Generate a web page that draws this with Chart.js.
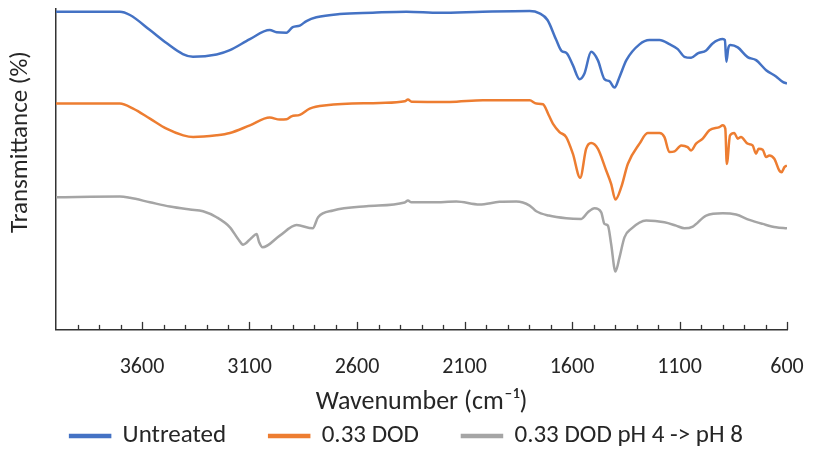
<!DOCTYPE html>
<html>
<head>
<meta charset="utf-8">
<script src="https://cdn.jsdelivr.net/npm/chart.js@4/dist/chart.umd.min.js"></script>
<style>
    body { margin: 0; background: #fff; }
    #wrap { width: 813px; height: 455px; position: relative; }
</style>
</head>
<body>
<div id="wrap"><canvas id="ftirChart"></canvas></div>
<script>
// ==================== FTIR spectra ====================
const FONT = "Carlito, Calibri, Lato, 'Noto Sans', sans-serif";
const TEXT_COLOR = '#262626';

// x tick labels (wavenumber, axis runs 4000 -> 600)
const xTickLabels = [3600, 3100, 2600, 2100, 1600, 1100, 600];

// Untreated
const untreatedX = [4000, 3703, 3656, 3563, 3486, 3410, 3363, 3253, 3191, 3098, 3006, 2974, 2928, 2899, 2866, 2835, 2789, 2680, 2527, 2370, 2216, 2016, 1797, 1751, 1714, 1673, 1649, 1625, 1596, 1565, 1542, 1511, 1480, 1449, 1426, 1402, 1379, 1347, 1286, 1240, 1193, 1147, 1108, 1077, 1046, 1015, 976, 946, 899, 889, 882, 873, 863, 829, 783, 744, 697, 651, 620, 600];
const untreatedY = [317.3, 317.3, 314, 299, 286, 275, 272.3, 274.7, 279, 290, 299, 296.7, 296.3, 302, 303.5, 308, 311.7, 315, 316.3, 317.3, 316.3, 317.3, 318, 315.7, 309, 289, 278.3, 276, 264, 250, 255.7, 277.3, 269, 250, 248, 241.7, 252.3, 269, 284.7, 289, 289, 285, 280, 272.3, 271.3, 275.7, 278.7, 285.7, 290, 289, 267.5, 281, 284, 281.7, 272, 269, 259, 252.7, 247.3, 245.7];

// 0.33 DOD
const dodX = [4000, 3703, 3641, 3563, 3486, 3408, 3362, 3253, 3191, 3098, 3006, 2959, 2928, 2905, 2866, 2820, 2742, 2494, 2378, 2363, 2346, 2169, 2014, 1797, 1766, 1735, 1708, 1689, 1658, 1627, 1596, 1562, 1534, 1511, 1480, 1441, 1418, 1398, 1371, 1340, 1286, 1248, 1193, 1170, 1147, 1123, 1092, 1062, 1046, 1023, 992, 961, 914, 899, 887, 880, 865, 845, 829, 814, 783, 760, 744, 732, 713, 697, 682, 659, 636, 625, 612, 600];
const dodY = [225.7, 225.7, 220.7, 210.7, 200.7, 194, 192.3, 194, 196.3, 204, 211.7, 209.7, 210, 213, 214.5, 220.7, 224, 226.3, 228, 229.7, 227.5, 227.3, 229, 229, 225.7, 225, 214, 205.7, 197.3, 192.3, 175.7, 151.7, 180.7, 186.3, 180.7, 159, 145.7, 130, 142.3, 165.7, 185.7, 196.3, 196.3, 192.3, 177.3, 178, 184, 182.3, 179, 185.7, 190.7, 199, 202.3, 204, 200.7, 165.5, 194, 196.3, 190.7, 192.3, 185.7, 184, 175.7, 180.7, 179.7, 172.3, 174, 170.7, 159, 157.3, 162.3, 164];

// 0.33 DOD pH 4 -> pH 8
const phX = [4000, 3703, 3656, 3563, 3470, 3377, 3316, 3253, 3191, 3153, 3130, 3091, 3067, 3055, 3039, 2959, 2881, 2806, 2781, 2711, 2556, 2378, 2363, 2347, 2247, 2138, 2030, 1937, 1859, 1797, 1766, 1708, 1627, 1557, 1526, 1495, 1464, 1449, 1433, 1418, 1398, 1379, 1356, 1325, 1255, 1170, 1116, 1077, 1038, 976, 899, 837, 775, 713, 651, 600];
const phY = [132.3, 133, 131.7, 127.3, 123, 120, 118.3, 112.3, 102.3, 90.7, 85, 91.7, 95.7, 87.3, 82.3, 94, 104.5, 101.3, 112.3, 119, 123.3, 127, 129, 127.3, 127.3, 128, 125, 127.7, 128, 124, 118.3, 114, 111.3, 110.7, 117.3, 121.3, 117.3, 105.7, 104, 85.7, 58.3, 72.3, 92.3, 100.7, 109, 107.3, 104, 101.3, 103, 114, 116.3, 115, 109.7, 105.7, 102.3, 101.3];

function toPoints(xs, ys) {
    return xs.map((x, i) => ({ x: x, y: ys[i] }));
}

function makeSeries(label, xs, ys, color) {
    return {
        label: label,
        data: toPoints(xs, ys),
        borderColor: color,
        backgroundColor: color,
        borderWidth: 2.5,
        pointRadius: 0,
        cubicInterpolationMode: 'monotone'
    };
}

// tick marks pointing into the plot + y title (Excel style)
const axisMarks = {
    id: 'axisMarks',
    afterDraw(chart) {
        const ctx = chart.ctx;
        const area = chart.chartArea;
        const x = chart.scales.x;
        ctx.save();
        ctx.strokeStyle = '#333';
        ctx.lineWidth = 1.3;
        for (let v = 700; v < 4000; v += 100) {
            const major = xTickLabels.includes(v);
            const px = Math.round(x.getPixelForValue(v)) + 0.5;
            ctx.beginPath();
            ctx.moveTo(px, area.bottom);
            ctx.lineTo(px, area.bottom - (major ? 8 : 5));
            ctx.stroke();
        }
        const pxEnd = Math.round(x.getPixelForValue(600)) + 0.5;
        ctx.beginPath();
        ctx.moveTo(pxEnd, area.bottom);
        ctx.lineTo(pxEnd, area.bottom - 8);
        ctx.stroke();

        // y axis title
        ctx.translate(21, 142);
        ctx.rotate(-Math.PI / 2);
        ctx.font = '25px ' + FONT;
        ctx.fillStyle = TEXT_COLOR;
        ctx.textAlign = 'center';
        ctx.textBaseline = 'middle';
        ctx.fillText('Transmittance (%)', 0, 0);
        ctx.restore();
    }
};

new Chart(document.getElementById('ftirChart'), {
    type: 'line',
    data: {
        datasets: [
            makeSeries('Untreated', untreatedX, untreatedY, '#4472C4'),
            makeSeries('0.33 DOD', dodX, dodY, '#ED7D31'),
            makeSeries('0.33 DOD pH 4 -> pH 8', phX, phY, '#A5A5A5')
        ]
    },
    options: {
        responsive: true,
        maintainAspectRatio: false,
        animation: false,
        layout: { padding: { left: 0, right: 0, top: 9, bottom: -3.5 } },
        plugins: {
            legend: {
                position: 'bottom',
                labels: {
                    boxWidth: 40,
                    boxHeight: 2,
                    padding: 43,
                    color: TEXT_COLOR,
                    font: { family: FONT, size: 25 }
                }
            },
            tooltip: { enabled: false }
        },
        scales: {
            x: {
                type: 'linear',
                reverse: true,
                min: 600,
                max: 4000,
                afterBuildTicks: axis => {
                    axis.ticks = xTickLabels.map(v => ({ value: v }));
                },
                afterFit: axis => {
                    axis.paddingLeft = 0;
                    axis.paddingRight = 26;
                },
                grid: { display: true, drawOnChartArea: false, drawTicks: true, tickLength: 20, tickColor: 'rgba(0,0,0,0)' },
                border: { display: true, color: '#333', width: 1.5 },
                ticks: {
                    padding: 4,
                    maxRotation: 0,
                    autoSkip: false,
                    color: TEXT_COLOR,
                    font: { family: FONT, size: 22 },
                    callback: v => String(v)
                },
                title: {
                    display: true,
                    text: 'Wavenumber (cm\u207B\u00B9)',
                    color: TEXT_COLOR,
                    font: { family: FONT, size: 26 },
                    padding: { top: 3, bottom: -38 }
                }
            },
            y: {
                min: 0,
                max: 320,
                afterFit: axis => { axis.width = 56; },
                grid: { display: false, drawTicks: false },
                border: { display: true, color: '#333', width: 1.5 },
                ticks: { display: false }
            }
        }
    },
    plugins: [axisMarks]
});
</script>
</body>
</html>
